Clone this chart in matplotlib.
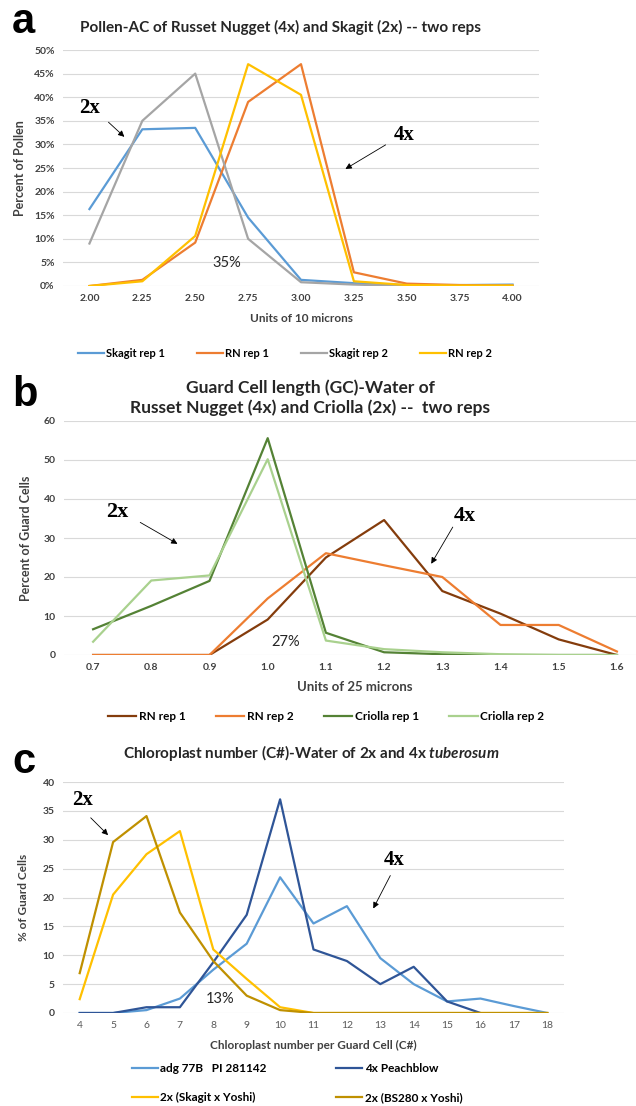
import numpy as np
import matplotlib
matplotlib.use('Agg')
import matplotlib.pyplot as plt
from matplotlib.ticker import FuncFormatter

# panel a - pollen
pollen_x = [2.00, 2.25, 2.50, 2.75, 3.00, 3.25, 3.50, 3.75, 4.00]
skagit_rep1 = [16.3, 33.2, 33.5, 14.5, 1.3, 0.6, 0.2, 0.2, 0.3]
rn_rep1_a = [0.0, 1.3, 9.2, 39.0, 47.0, 2.9, 0.5, 0.2, 0.1]
skagit_rep2 = [9.0, 35.0, 45.0, 10.0, 0.8, 0.3, 0.0, 0.0, 0.0]
rn_rep2_a = [0.0, 1.0, 10.6, 47.0, 40.5, 1.0, 0.2, 0.1, 0.1]

# panel b - guard cell length
gc_x = [0.7, 0.8, 0.9, 1.0, 1.1, 1.2, 1.3, 1.4, 1.5, 1.6]
rn_rep1_b = [0.0, 0.0, 0.0, 9.1, 25.0, 34.6, 16.4, 10.6, 4.0, 0.0]
rn_rep2_b = [0.0, 0.0, 0.0, 14.5, 26.1, 23.0, 20.0, 7.7, 7.7, 0.9]
criolla_rep1 = [6.6, 12.6, 19.0, 55.6, 5.7, 0.7, 0.2, 0.0, 0.0, 0.0]
criolla_rep2 = [3.4, 19.1, 20.4, 50.2, 3.7, 1.5, 0.7, 0.2, 0.0, 0.0]

# panel c - chloroplast number
c_x = [4, 5, 6, 7, 8, 9, 10, 11, 12, 13, 14, 15, 16, 17, 18]
adg77b = [0, 0, 0.5, 2.5, 7.5, 12.0, 23.5, 15.5, 18.5, 9.5, 5.0, 2.0, 2.5, 1.2, 0]
peachblow = [0, 0, 1.0, 1.0, 8.8, 17.0, 37.0, 11.0, 9.0, 5.0, 8.0, 2.0, 0, np.nan, np.nan]
skagit_yoshi = [2.4, 20.5, 27.5, 31.5, 11.0, 5.9, 1.0, 0, 0, 0, 0, 0, 0, 0, 0]
bs280_yoshi = [6.9, 29.6, 34.1, 17.4, 9.0, 3.0, 0.5, 0, 0, 0, 0, 0, 0, 0, 0]

FONT = ['Lato', 'DejaVu Sans']
plt.rcParams['font.family'] = FONT
plt.rcParams['mathtext.fontset'] = 'custom'
plt.rcParams['mathtext.it'] = 'Lato:italic:bold'
TICK_C = '#404040'
GRID_C = '#d9d9d9'
TITLE_C = '#262626'

fig = plt.figure(figsize=(6.36, 11.06), dpi=100)
H = 1106.0
W = 636.0


def make_axes(left, right, top, bottom):
    return fig.add_axes([left / W, 1 - bottom / H, (right - left) / W, (bottom - top) / H])


def style(ax):
    for s in ax.spines.values():
        s.set_visible(False)
    ax.grid(axis='y', color=GRID_C, linewidth=0.8)
    ax.set_axisbelow(True)
    ax.tick_params(length=0, labelsize=7.5, colors=TICK_C, pad=6)
    for lab in ax.get_xticklabels() + ax.get_yticklabels():
        lab.set_fontweight('bold')


def arrow(ax, xy_from, xy_to):
    ax.annotate('', xy=xy_to, xytext=xy_from,
                arrowprops=dict(arrowstyle='-|>', color='black', lw=0.6,
                                mutation_scale=9, shrinkA=0, shrinkB=0))


def ploidy(ax, txt, xy, size=15):
    ax.text(xy[0], xy[1], txt, family='Liberation Serif', fontweight='bold',
            fontsize=size, ha='center', va='center')


# ---------------- a ----------------
ax = make_axes(63, 539, 50, 286)
ax.plot(pollen_x, skagit_rep1, color='#5b9bd5', lw=1.6, label='Skagit rep 1')
ax.plot(pollen_x, rn_rep1_a, color='#ed7d31', lw=1.6, label='RN rep 1')
ax.plot(pollen_x, skagit_rep2, color='#a5a5a5', lw=1.6, label='Skagit rep 2')
ax.plot(pollen_x, rn_rep2_a, color='#ffc000', lw=1.6, label='RN rep 2')
ax.set_xlim(2.0 - 0.125, 4.0 + 0.125)
ax.set_ylim(0, 50)
ax.set_xticks(pollen_x)
ax.set_xticklabels(['%.2f' % v for v in pollen_x])
ax.set_yticks(np.arange(0, 51, 5))
ax.yaxis.set_major_formatter(FuncFormatter(lambda v, p: '%d%%' % v))
style(ax)
ax.set_title('Pollen-AC of Russet Nugget (4x) and Skagit (2x) -- two reps',
             fontsize=11, fontweight='bold', color=TITLE_C, x=(280 - 63) / 476, pad=13)
ax.set_xlabel('Units of 10 microns', fontsize=8.5, fontweight='bold', color=TICK_C, labelpad=7)
ax.set_ylabel('Percent of Pollen', fontsize=9, fontweight='bold', color=TICK_C, labelpad=6)
ploidy(ax, '2x', (2.0, 37.7))
arrow(ax, (2.09, 34.7), (2.165, 31.6))
ploidy(ax, '4x', (3.49, 32.0))
arrow(ax, (3.40, 29.9), (3.21, 24.8))
ax.text(2.65, 4.9, '35%', fontsize=10.5, ha='center', va='center', color=TITLE_C)
ax.legend(loc='center', bbox_to_anchor=(285 / W, 1 - 353 / H), bbox_transform=fig.transFigure,
          ncol=4, frameon=False, handlelength=2.4, handletextpad=0.2,
          columnspacing=2.8, prop={'weight': 'bold', 'size': 8})

# ---------------- b ----------------
ax = make_axes(64, 646, 421, 655)
ax.plot(gc_x, rn_rep1_b, color='#843c0c', lw=1.6, label='RN rep 1')
ax.plot(gc_x, rn_rep2_b, color='#ed7d31', lw=1.6, label='RN rep 2')
ax.plot(gc_x, criolla_rep1, color='#548235', lw=1.6, label='Criolla rep 1')
ax.plot(gc_x, criolla_rep2, color='#a9d18e', lw=1.6, label='Criolla rep 2')
ax.set_xlim(0.7 - 0.05, 1.6 + 0.05)
ax.set_ylim(0, 60)
ax.set_xticks(gc_x)
ax.set_xticklabels(['%.1f' % v for v in gc_x])
ax.set_yticks(np.arange(0, 61, 10))
style(ax)
ax.set_title('Guard Cell length (GC)-Water of\nRusset Nugget (4x) and Criolla (2x) --  two reps',
             fontsize=12.5, fontweight='bold', color=TITLE_C, x=(310 - 64) / 582, pad=6,
             linespacing=1.2)
ax.set_xlabel('Units of 25 microns', fontsize=9.5, fontweight='bold', color=TICK_C, labelpad=6)
ax.set_ylabel('Percent of Guard Cells', fontsize=9, fontweight='bold', color=TICK_C, labelpad=8)
ploidy(ax, '2x', (0.742, 36.6), 16)
arrow(ax, (0.781, 34.0), (0.845, 28.5))
ploidy(ax, '4x', (1.339, 35.7), 16)
arrow(ax, (1.318, 32.8), (1.281, 23.4))
ax.text(1.03, 3.4, '27%', fontsize=10.5, ha='center', va='center', color=TITLE_C)
ax.legend(loc='center', bbox_to_anchor=(326 / W, 1 - 717 / H), bbox_transform=fig.transFigure,
          ncol=4, frameon=False, handlelength=2.4, handletextpad=0.2,
          columnspacing=2.6, prop={'weight': 'bold', 'size': 8.5})

# ---------------- c ----------------
ax = make_axes(63, 564, 782, 1013)
l_adg, = ax.plot(c_x, adg77b, color='#5b9bd5', lw=1.6, label='adg 77B   PI 281142')
l_pb, = ax.plot(c_x, peachblow, color='#2f5597', lw=1.6, label='4x Peachblow')
l_sy, = ax.plot(c_x, skagit_yoshi, color='#ffc000', lw=1.6, label='2x (Skagit x Yoshi)')
l_bs, = ax.plot(c_x, bs280_yoshi, color='#bf9000', lw=1.6, label='2x (BS280 x Yoshi)')
ax.set_xlim(4 - 0.5, 18 + 0.5)
ax.set_ylim(0, 40)
ax.set_xticks(c_x)
ax.set_yticks(np.arange(0, 41, 5))
style(ax)
for lab in ax.get_xticklabels():
    lab.set_fontweight('normal')
    lab.set_color('#595959')
ax.set_title('Chloroplast number (C#)-Water of 2x and 4x $\\it{tuberosum}$',
             fontsize=11, fontweight='bold', color=TITLE_C, x=(311 - 63) / 501, pad=17)
ax.set_xlabel('Chloroplast number per Guard Cell (C#)', fontsize=8.5, fontweight='bold',
              color=TICK_C, labelpad=7)
ax.set_ylabel('% of Guard Cells', fontsize=8.5, fontweight='bold', color=TICK_C, labelpad=10)
ploidy(ax, '2x', (4.1, 36.8))
arrow(ax, (4.33, 33.8), (4.85, 30.8))
ploidy(ax, '4x', (13.43, 26.5))
arrow(ax, (13.3, 23.8), (12.79, 18.1))
ax.text(8.21, 2.4, '13%', fontsize=10.5, ha='center', va='center', color=TITLE_C)
ax.legend([l_adg, l_sy, l_pb, l_bs],
          [l_adg.get_label(), l_sy.get_label(), l_pb.get_label(), l_bs.get_label()],
          loc='center', bbox_to_anchor=(297 / W, 1 - 1083 / H), bbox_transform=fig.transFigure,
          ncol=2, frameon=False, handlelength=2.2, handletextpad=0.2,
          columnspacing=5.9, labelspacing=1.5, prop={'weight': 'bold', 'size': 8.5})

# panel letters
for letter, y in [('a', 22), ('b', 395), ('c', 762)]:
    fig.text(12 / W, 1 - y / H, letter, family='Liberation Sans', fontweight='bold',
             fontsize=30, ha='left', va='center')

fig.savefig('out.png', dpi=100)
